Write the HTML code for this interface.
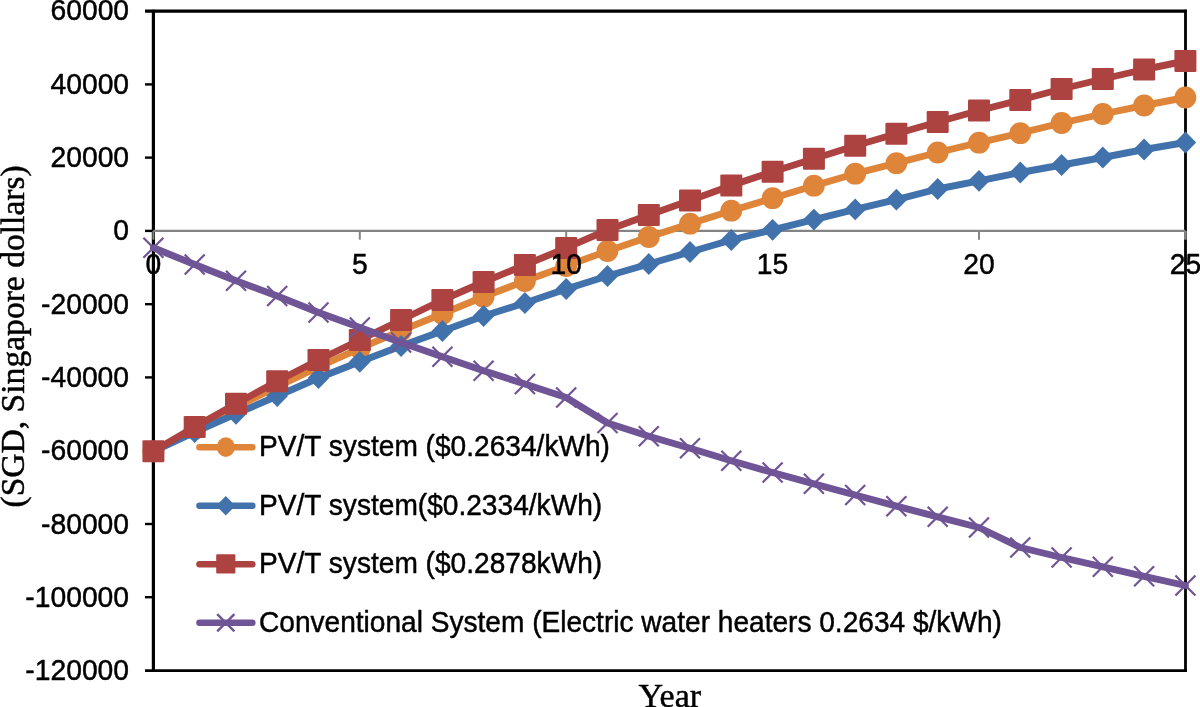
<!DOCTYPE html>
<html>
<head>
<meta charset="utf-8">
<title>Payback chart</title>
<style>
html,body{margin:0;padding:0;background:#fff;}
body{width:1200px;height:707px;overflow:hidden;position:relative;}
svg{position:absolute;left:0;top:0;display:block;}
svg{will-change:transform;}
text{font-family:"Liberation Sans",sans-serif;fill:#000;stroke:#000;stroke-width:0.45px;stroke-linejoin:round;}
.ser{font-family:"Liberation Serif",serif;}
</style>
</head>
<body>
<svg width="1200" height="707" viewBox="0 0 1200 707">
<rect x="0" y="0" width="1200" height="707" fill="#fff"/>

<!-- frame -->
<path d="M145 11.1H1186.9" stroke="#000" stroke-width="3.2" fill="none"/>
<path d="M1185.5 9.8V671.8" stroke="#000" stroke-width="2.8" fill="none"/>
<path d="M145 670.7H1186.8" stroke="#000" stroke-width="2.8" fill="none"/>
<path d="M153.4 9.8V671.6" stroke="#000" stroke-width="3.2" fill="none"/>
<path d="M145 84.4H153" stroke="#000" stroke-width="2.4" fill="none"/>
<path d="M145 157.6H153" stroke="#000" stroke-width="2.4" fill="none"/>
<path d="M145 230.9H153" stroke="#000" stroke-width="2.4" fill="none"/>
<path d="M145 304.2H153" stroke="#000" stroke-width="2.4" fill="none"/>
<path d="M145 377.4H153" stroke="#000" stroke-width="2.4" fill="none"/>
<path d="M145 450.7H153" stroke="#000" stroke-width="2.4" fill="none"/>
<path d="M145 524.0H153" stroke="#000" stroke-width="2.4" fill="none"/>
<path d="M145 597.2H153" stroke="#000" stroke-width="2.4" fill="none"/>
<path d="M153.4 230.9H1185.4" stroke="#848484" stroke-width="2.1" fill="none"/>
<path d="M153.4 230.9V239.7" stroke="#868686" stroke-width="2.0" fill="none"/>
<path d="M359.8 230.9V239.7" stroke="#868686" stroke-width="2.0" fill="none"/>
<path d="M566.2 230.9V239.7" stroke="#868686" stroke-width="2.0" fill="none"/>
<path d="M772.6 230.9V239.7" stroke="#868686" stroke-width="2.0" fill="none"/>
<path d="M979.0 230.9V239.7" stroke="#868686" stroke-width="2.0" fill="none"/>
<path d="M1185.4 230.9V239.7" stroke="#868686" stroke-width="2.6" fill="none"/>
<!-- series -->
<polyline points="153.4,451.3 194.7,428.8 236.0,407.2 277.2,386.6 318.5,367.0 359.8,348.3 401.1,330.6 442.4,313.8 483.6,296.8 524.9,281.0 566.2,266.0 607.5,251.0 648.8,237.0 690.0,223.7 731.3,210.7 772.6,198.2 813.9,185.7 855.2,173.7 896.4,163.2 937.7,152.5 979.0,142.7 1020.3,133.2 1061.6,123.0 1102.8,114.0 1144.1,105.5 1185.4,97.5" fill="none" stroke="#DE8539" stroke-width="6.9" stroke-linejoin="round" stroke-linecap="round"/>
<circle cx="153.4" cy="451.3" r="10.9" fill="#DE8539"/>
<circle cx="194.7" cy="428.8" r="10.9" fill="#DE8539"/>
<circle cx="236.0" cy="407.2" r="10.9" fill="#DE8539"/>
<circle cx="277.2" cy="386.6" r="10.9" fill="#DE8539"/>
<circle cx="318.5" cy="367.0" r="10.9" fill="#DE8539"/>
<circle cx="359.8" cy="348.3" r="10.9" fill="#DE8539"/>
<circle cx="401.1" cy="330.6" r="10.9" fill="#DE8539"/>
<circle cx="442.4" cy="313.8" r="10.9" fill="#DE8539"/>
<circle cx="483.6" cy="296.8" r="10.9" fill="#DE8539"/>
<circle cx="524.9" cy="281.0" r="10.9" fill="#DE8539"/>
<circle cx="566.2" cy="266.0" r="10.9" fill="#DE8539"/>
<circle cx="607.5" cy="251.0" r="10.9" fill="#DE8539"/>
<circle cx="648.8" cy="237.0" r="10.9" fill="#DE8539"/>
<circle cx="690.0" cy="223.7" r="10.9" fill="#DE8539"/>
<circle cx="731.3" cy="210.7" r="10.9" fill="#DE8539"/>
<circle cx="772.6" cy="198.2" r="10.9" fill="#DE8539"/>
<circle cx="813.9" cy="185.7" r="10.9" fill="#DE8539"/>
<circle cx="855.2" cy="173.7" r="10.9" fill="#DE8539"/>
<circle cx="896.4" cy="163.2" r="10.9" fill="#DE8539"/>
<circle cx="937.7" cy="152.5" r="10.9" fill="#DE8539"/>
<circle cx="979.0" cy="142.7" r="10.9" fill="#DE8539"/>
<circle cx="1020.3" cy="133.2" r="10.9" fill="#DE8539"/>
<circle cx="1061.6" cy="123.0" r="10.9" fill="#DE8539"/>
<circle cx="1102.8" cy="114.0" r="10.9" fill="#DE8539"/>
<circle cx="1144.1" cy="105.5" r="10.9" fill="#DE8539"/>
<circle cx="1185.4" cy="97.5" r="10.9" fill="#DE8539"/>
<polyline points="153.4,451.3 194.7,432.0 236.0,413.8 277.2,396.0 318.5,378.0 359.8,361.8 401.1,346.0 442.4,331.0 483.6,316.0 524.9,303.0 566.2,289.0 607.5,276.0 648.8,264.0 690.0,252.0 731.3,240.0 772.6,229.8 813.9,219.6 855.2,209.4 896.4,199.7 937.7,189.0 979.0,180.8 1020.3,172.5 1061.6,165.0 1102.8,157.5 1144.1,149.5 1185.4,142.5" fill="none" stroke="#4272AB" stroke-width="6.9" stroke-linejoin="round" stroke-linecap="round"/>
<path d="M153.4 440.4L164.2 451.3L153.4 462.2L142.6 451.3Z" fill="#4272AB"/>
<path d="M194.7 421.1L205.5 432.0L194.7 442.9L183.9 432.0Z" fill="#4272AB"/>
<path d="M236.0 402.9L246.8 413.8L236.0 424.7L225.2 413.8Z" fill="#4272AB"/>
<path d="M277.2 385.1L288.0 396.0L277.2 406.9L266.4 396.0Z" fill="#4272AB"/>
<path d="M318.5 367.1L329.3 378.0L318.5 388.9L307.7 378.0Z" fill="#4272AB"/>
<path d="M359.8 350.9L370.6 361.8L359.8 372.7L349.0 361.8Z" fill="#4272AB"/>
<path d="M401.1 335.1L411.9 346.0L401.1 356.9L390.3 346.0Z" fill="#4272AB"/>
<path d="M442.4 320.1L453.2 331.0L442.4 341.9L431.6 331.0Z" fill="#4272AB"/>
<path d="M483.6 305.1L494.4 316.0L483.6 326.9L472.8 316.0Z" fill="#4272AB"/>
<path d="M524.9 292.1L535.7 303.0L524.9 313.9L514.1 303.0Z" fill="#4272AB"/>
<path d="M566.2 278.1L577.0 289.0L566.2 299.9L555.4 289.0Z" fill="#4272AB"/>
<path d="M607.5 265.1L618.3 276.0L607.5 286.9L596.7 276.0Z" fill="#4272AB"/>
<path d="M648.8 253.1L659.6 264.0L648.8 274.9L638.0 264.0Z" fill="#4272AB"/>
<path d="M690.0 241.1L700.8 252.0L690.0 262.9L679.2 252.0Z" fill="#4272AB"/>
<path d="M731.3 229.1L742.1 240.0L731.3 250.9L720.5 240.0Z" fill="#4272AB"/>
<path d="M772.6 218.9L783.4 229.8L772.6 240.7L761.8 229.8Z" fill="#4272AB"/>
<path d="M813.9 208.7L824.7 219.6L813.9 230.5L803.1 219.6Z" fill="#4272AB"/>
<path d="M855.2 198.5L866.0 209.4L855.2 220.3L844.4 209.4Z" fill="#4272AB"/>
<path d="M896.4 188.8L907.2 199.7L896.4 210.6L885.6 199.7Z" fill="#4272AB"/>
<path d="M937.7 178.1L948.5 189.0L937.7 199.9L926.9 189.0Z" fill="#4272AB"/>
<path d="M979.0 169.9L989.8 180.8L979.0 191.7L968.2 180.8Z" fill="#4272AB"/>
<path d="M1020.3 161.6L1031.1 172.5L1020.3 183.4L1009.5 172.5Z" fill="#4272AB"/>
<path d="M1061.6 154.1L1072.4 165.0L1061.6 175.9L1050.8 165.0Z" fill="#4272AB"/>
<path d="M1102.8 146.6L1113.6 157.5L1102.8 168.4L1092.0 157.5Z" fill="#4272AB"/>
<path d="M1144.1 138.6L1154.9 149.5L1144.1 160.4L1133.3 149.5Z" fill="#4272AB"/>
<path d="M1185.4 131.6L1196.2 142.5L1185.4 153.4L1174.6 142.5Z" fill="#4272AB"/>
<polyline points="153.4,451.2 194.7,427.0 236.0,403.8 277.2,381.3 318.5,360.0 359.8,340.0 401.1,320.0 442.4,300.0 483.6,282.0 524.9,265.0 566.2,247.9 607.5,230.0 648.8,215.0 690.0,200.4 731.3,185.4 772.6,171.8 813.9,158.8 855.2,145.8 896.4,133.8 937.7,122.0 979.0,110.5 1020.3,100.0 1061.6,89.0 1102.8,79.0 1144.1,69.5 1185.4,61.0" fill="none" stroke="#AC4341" stroke-width="6.9" stroke-linejoin="round" stroke-linecap="round"/>
<rect x="142.4" y="440.2" width="22.0" height="22.0" rx="1.2" fill="#AC4341"/>
<rect x="183.7" y="416.0" width="22.0" height="22.0" rx="1.2" fill="#AC4341"/>
<rect x="225.0" y="392.8" width="22.0" height="22.0" rx="1.2" fill="#AC4341"/>
<rect x="266.2" y="370.3" width="22.0" height="22.0" rx="1.2" fill="#AC4341"/>
<rect x="307.5" y="349.0" width="22.0" height="22.0" rx="1.2" fill="#AC4341"/>
<rect x="348.8" y="329.0" width="22.0" height="22.0" rx="1.2" fill="#AC4341"/>
<rect x="390.1" y="309.0" width="22.0" height="22.0" rx="1.2" fill="#AC4341"/>
<rect x="431.4" y="289.0" width="22.0" height="22.0" rx="1.2" fill="#AC4341"/>
<rect x="472.6" y="271.0" width="22.0" height="22.0" rx="1.2" fill="#AC4341"/>
<rect x="513.9" y="254.0" width="22.0" height="22.0" rx="1.2" fill="#AC4341"/>
<rect x="555.2" y="236.9" width="22.0" height="22.0" rx="1.2" fill="#AC4341"/>
<rect x="596.5" y="219.0" width="22.0" height="22.0" rx="1.2" fill="#AC4341"/>
<rect x="637.8" y="204.0" width="22.0" height="22.0" rx="1.2" fill="#AC4341"/>
<rect x="679.0" y="189.4" width="22.0" height="22.0" rx="1.2" fill="#AC4341"/>
<rect x="720.3" y="174.4" width="22.0" height="22.0" rx="1.2" fill="#AC4341"/>
<rect x="761.6" y="160.8" width="22.0" height="22.0" rx="1.2" fill="#AC4341"/>
<rect x="802.9" y="147.8" width="22.0" height="22.0" rx="1.2" fill="#AC4341"/>
<rect x="844.2" y="134.8" width="22.0" height="22.0" rx="1.2" fill="#AC4341"/>
<rect x="885.4" y="122.8" width="22.0" height="22.0" rx="1.2" fill="#AC4341"/>
<rect x="926.7" y="111.0" width="22.0" height="22.0" rx="1.2" fill="#AC4341"/>
<rect x="968.0" y="99.5" width="22.0" height="22.0" rx="1.2" fill="#AC4341"/>
<rect x="1009.3" y="89.0" width="22.0" height="22.0" rx="1.2" fill="#AC4341"/>
<rect x="1050.6" y="78.0" width="22.0" height="22.0" rx="1.2" fill="#AC4341"/>
<rect x="1091.8" y="68.0" width="22.0" height="22.0" rx="1.2" fill="#AC4341"/>
<rect x="1133.1" y="58.5" width="22.0" height="22.0" rx="1.2" fill="#AC4341"/>
<rect x="1174.4" y="50.0" width="22.0" height="22.0" rx="1.2" fill="#AC4341"/>
<polyline points="153.4,247.8 194.7,264.5 236.0,280.8 277.2,296.0 318.5,312.5 359.8,327.5 401.1,342.5 442.4,356.8 483.6,370.8 524.9,384.0 566.2,397.5 607.5,423.0 648.8,436.2 690.0,448.3 731.3,460.8 772.6,472.5 813.9,483.8 855.2,495.0 896.4,506.2 937.7,516.8 979.0,527.5 1020.3,547.5 1061.6,557.5 1102.8,566.8 1144.1,576.3 1185.4,585.5" fill="none" stroke="#705596" stroke-width="6.9" stroke-linejoin="round" stroke-linecap="round"/>
<path d="M143.4 237.8L163.4 257.8M143.4 257.8L163.4 237.8" stroke="#705596" stroke-width="2.2" fill="none"/>
<path d="M184.7 254.5L204.7 274.5M184.7 274.5L204.7 254.5" stroke="#705596" stroke-width="2.2" fill="none"/>
<path d="M226.0 270.8L246.0 290.8M226.0 290.8L246.0 270.8" stroke="#705596" stroke-width="2.2" fill="none"/>
<path d="M267.2 286.0L287.2 306.0M267.2 306.0L287.2 286.0" stroke="#705596" stroke-width="2.2" fill="none"/>
<path d="M308.5 302.5L328.5 322.5M308.5 322.5L328.5 302.5" stroke="#705596" stroke-width="2.2" fill="none"/>
<path d="M349.8 317.5L369.8 337.5M349.8 337.5L369.8 317.5" stroke="#705596" stroke-width="2.2" fill="none"/>
<path d="M391.1 332.5L411.1 352.5M391.1 352.5L411.1 332.5" stroke="#705596" stroke-width="2.2" fill="none"/>
<path d="M432.4 346.8L452.4 366.8M432.4 366.8L452.4 346.8" stroke="#705596" stroke-width="2.2" fill="none"/>
<path d="M473.6 360.8L493.6 380.8M473.6 380.8L493.6 360.8" stroke="#705596" stroke-width="2.2" fill="none"/>
<path d="M514.9 374.0L534.9 394.0M514.9 394.0L534.9 374.0" stroke="#705596" stroke-width="2.2" fill="none"/>
<path d="M556.2 387.5L576.2 407.5M556.2 407.5L576.2 387.5" stroke="#705596" stroke-width="2.2" fill="none"/>
<path d="M597.5 413.0L617.5 433.0M597.5 433.0L617.5 413.0" stroke="#705596" stroke-width="2.2" fill="none"/>
<path d="M638.8 426.2L658.8 446.2M638.8 446.2L658.8 426.2" stroke="#705596" stroke-width="2.2" fill="none"/>
<path d="M680.0 438.3L700.0 458.3M680.0 458.3L700.0 438.3" stroke="#705596" stroke-width="2.2" fill="none"/>
<path d="M721.3 450.8L741.3 470.8M721.3 470.8L741.3 450.8" stroke="#705596" stroke-width="2.2" fill="none"/>
<path d="M762.6 462.5L782.6 482.5M762.6 482.5L782.6 462.5" stroke="#705596" stroke-width="2.2" fill="none"/>
<path d="M803.9 473.8L823.9 493.8M803.9 493.8L823.9 473.8" stroke="#705596" stroke-width="2.2" fill="none"/>
<path d="M845.2 485.0L865.2 505.0M845.2 505.0L865.2 485.0" stroke="#705596" stroke-width="2.2" fill="none"/>
<path d="M886.4 496.2L906.4 516.2M886.4 516.2L906.4 496.2" stroke="#705596" stroke-width="2.2" fill="none"/>
<path d="M927.7 506.8L947.7 526.8M927.7 526.8L947.7 506.8" stroke="#705596" stroke-width="2.2" fill="none"/>
<path d="M969.0 517.5L989.0 537.5M969.0 537.5L989.0 517.5" stroke="#705596" stroke-width="2.2" fill="none"/>
<path d="M1010.3 537.5L1030.3 557.5M1010.3 557.5L1030.3 537.5" stroke="#705596" stroke-width="2.2" fill="none"/>
<path d="M1051.6 547.5L1071.6 567.5M1051.6 567.5L1071.6 547.5" stroke="#705596" stroke-width="2.2" fill="none"/>
<path d="M1092.8 556.8L1112.8 576.8M1092.8 576.8L1112.8 556.8" stroke="#705596" stroke-width="2.2" fill="none"/>
<path d="M1134.1 566.3L1154.1 586.3M1134.1 586.3L1154.1 566.3" stroke="#705596" stroke-width="2.2" fill="none"/>
<path d="M1175.4 575.5L1195.4 595.5M1175.4 595.5L1195.4 575.5" stroke="#705596" stroke-width="2.2" fill="none"/>
<!-- legend -->
<path d="M199.5 447.3H252.3" stroke="#DE8539" stroke-width="6.6" stroke-linecap="round" fill="none"/>
<path d="M199.5 505.8H252.3" stroke="#4272AB" stroke-width="6.6" stroke-linecap="round" fill="none"/>
<path d="M199.5 564.2H252.3" stroke="#AC4341" stroke-width="6.6" stroke-linecap="round" fill="none"/>
<path d="M199.5 622.8H252.3" stroke="#705596" stroke-width="6.6" stroke-linecap="round" fill="none"/>
<ellipse cx="225.8" cy="447.1" rx="9.1" ry="9.8" fill="#DE8539"/>
<path d="M225.8 496.1L235.4 505.8L225.8 515.5L216.2 505.8Z" fill="#4272AB"/>
<rect x="216.2" y="554.3" width="19.2" height="19.2" rx="1.2" fill="#AC4341"/>
<path d="M217.2 614.2L234.4 631.4M217.2 631.4L234.4 614.2" stroke="#705596" stroke-width="2.4" fill="none"/>
<g id="txt">
<text transform="translate(259.0,456.1) scale(0.997,1.03)" font-size="28.2px">PV/T system ($0.2634/kWh)</text>
<text transform="translate(259.0,514.6) scale(0.997,1.03)" font-size="28.2px">PV/T system($0.2334/kWh)</text>
<text transform="translate(259.0,573.0) scale(0.997,1.03)" font-size="28.2px">PV/T system ($0.2878kWh)</text>
<text transform="translate(259.0,631.6) scale(0.996,1.03)" font-size="28.2px">Conventional System (Electric water heaters 0.2634 $/kWh)</text>
<text transform="translate(129.1,20.3) scale(1,1.045)" font-size="28.3px" text-anchor="end">60000</text>
<text transform="translate(129.1,93.6) scale(1,1.045)" font-size="28.3px" text-anchor="end">40000</text>
<text transform="translate(129.1,166.9) scale(1,1.045)" font-size="28.3px" text-anchor="end">20000</text>
<text transform="translate(129.1,240.3) scale(1,1.045)" font-size="28.3px" text-anchor="end">0</text>
<text transform="translate(129.1,313.6) scale(1,1.045)" font-size="28.3px" text-anchor="end">-20000</text>
<text transform="translate(129.1,386.9) scale(1,1.045)" font-size="28.3px" text-anchor="end">-40000</text>
<text transform="translate(129.1,460.2) scale(1,1.045)" font-size="28.3px" text-anchor="end">-60000</text>
<text transform="translate(129.1,533.5) scale(1,1.045)" font-size="28.3px" text-anchor="end">-80000</text>
<text transform="translate(129.1,606.9) scale(1,1.045)" font-size="28.3px" text-anchor="end">-100000</text>
<text transform="translate(129.1,680.2) scale(1,1.045)" font-size="28.3px" text-anchor="end">-120000</text>
<text transform="translate(153.4,273.5) scale(1,1.045)" font-size="28.3px" text-anchor="middle">0</text>
<text transform="translate(359.8,273.5) scale(1,1.045)" font-size="28.3px" text-anchor="middle">5</text>
<text transform="translate(566.2,273.5) scale(1,1.045)" font-size="28.3px" text-anchor="middle">10</text>
<text transform="translate(772.6,273.5) scale(1,1.045)" font-size="28.3px" text-anchor="middle">15</text>
<text transform="translate(979.0,273.5) scale(1,1.045)" font-size="28.3px" text-anchor="middle">20</text>
<text transform="translate(1185.4,273.5) scale(1,1.045)" font-size="28.3px" text-anchor="middle">25</text>
<text class="ser" x="669.8" y="706.9" font-size="34px" text-anchor="middle">Year</text>
<text class="ser" transform="translate(23.7,336.4) rotate(-90)" font-size="33.6px" text-anchor="middle">(SGD, Singapore dollars)</text>
</g>
</svg>
</body>
</html>
